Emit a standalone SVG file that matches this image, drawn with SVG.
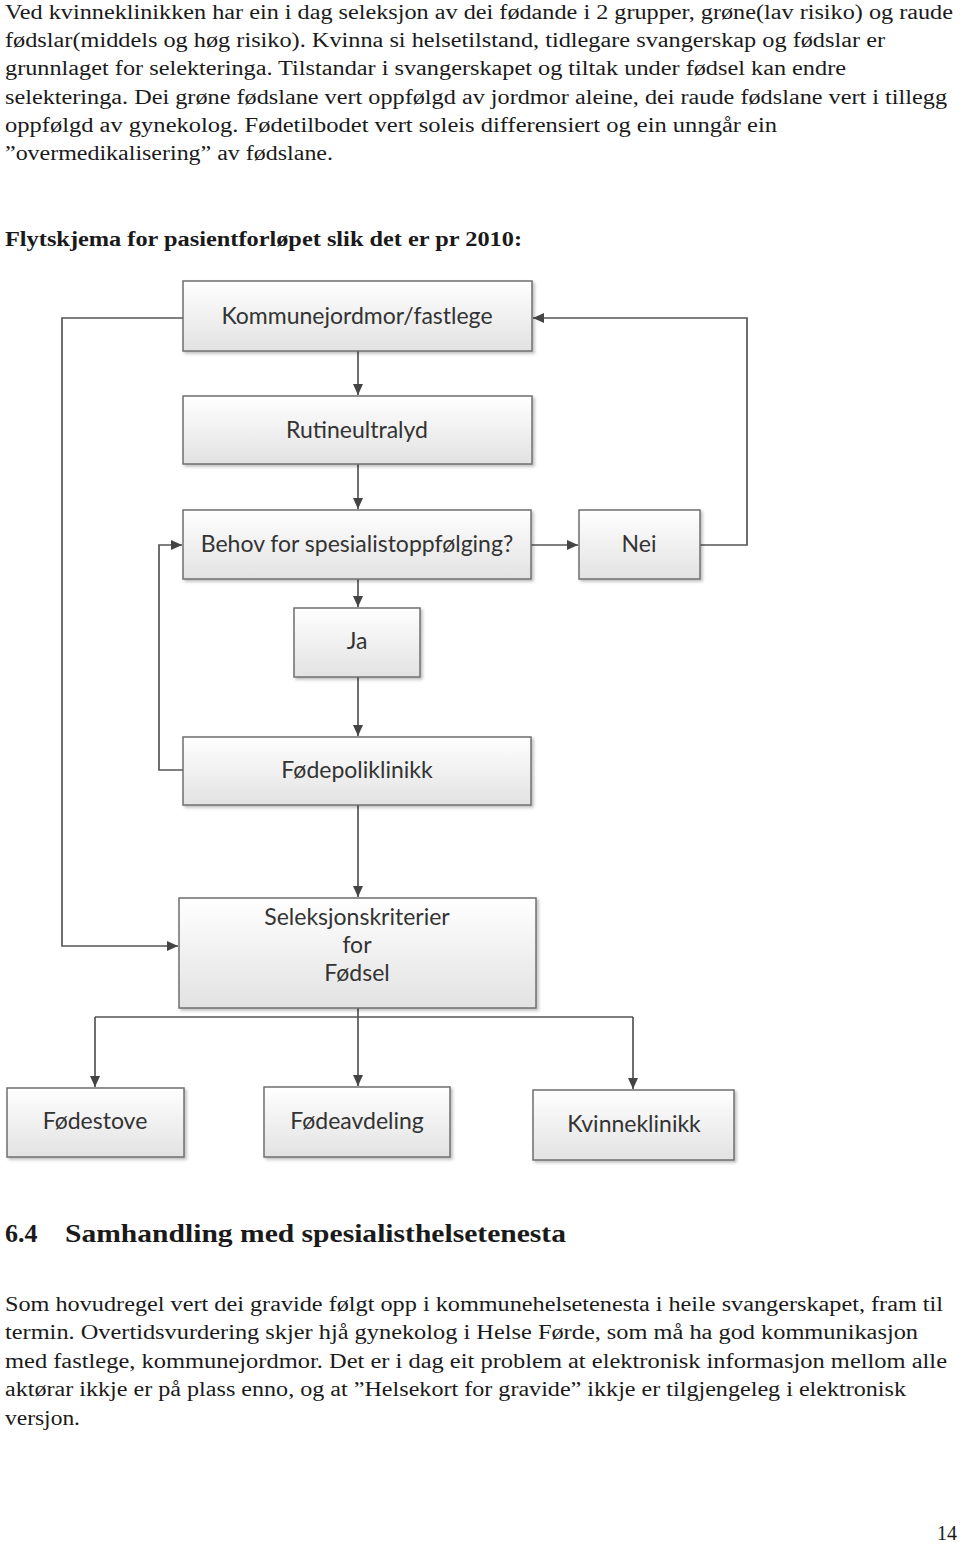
<svg xmlns="http://www.w3.org/2000/svg" width="960" height="1543" viewBox="0 0 960 1543">
<style>
.body{font-family:"Liberation Serif",serif;font-size:20px;fill:#1a1a1a}
.bold{font-family:"Liberation Serif",serif;font-weight:bold;fill:#1a1a1a}
.box{fill:url(#g);stroke:#6f6f6f;stroke-width:1.5;filter:url(#sh)}
.lbl{font-family:Lato,"Open Sans",sans-serif;font-size:23px;fill:#333;text-anchor:middle}
.con{fill:none;stroke:#555;stroke-width:1.7}
</style>
<defs>
<linearGradient id="g" x1="0" y1="0" x2="0" y2="1">
<stop offset="0" stop-color="#ffffff"/>
<stop offset="1" stop-color="#e2e2e2"/>
</linearGradient>
<filter id="sh" x="-10%" y="-10%" width="130%" height="140%">
<feDropShadow dx="2" dy="2" stdDeviation="1.5" flood-color="#000" flood-opacity="0.25"/>
</filter>
<marker id="ar" markerWidth="12" markerHeight="12" refX="11" refY="6" orient="auto" markerUnits="userSpaceOnUse">
<path d="M0,1 L11,6 L0,11 Z" fill="#444"/>
</marker>
</defs>
<rect width="960" height="1543" fill="#fff"/>

<g id="intro">
<text class="body" x="5" y="19" textLength="948" lengthAdjust="spacingAndGlyphs">Ved kvinneklinikken har ein i dag seleksjon av dei fødande i 2 grupper, grøne(lav risiko) og raude</text>
<text class="body" x="5" y="47" textLength="880" lengthAdjust="spacingAndGlyphs">fødslar(middels og høg risiko).  Kvinna si helsetilstand, tidlegare svangerskap og fødslar er</text>
<text class="body" x="5" y="75" textLength="841" lengthAdjust="spacingAndGlyphs">grunnlaget for selekteringa. Tilstandar i svangerskapet og tiltak under fødsel kan endre</text>
<text class="body" x="5" y="104" textLength="942" lengthAdjust="spacingAndGlyphs">selekteringa. Dei grøne fødslane vert oppfølgd av jordmor aleine, dei raude fødslane vert i tillegg</text>
<text class="body" x="5" y="132" textLength="772" lengthAdjust="spacingAndGlyphs">oppfølgd av gynekolog.  Fødetilbodet vert soleis differensiert og ein unngår ein</text>
<text class="body" x="5" y="160" textLength="328" lengthAdjust="spacingAndGlyphs">”overmedikalisering” av fødslane.</text>
<text class="bold" x="5" y="246" font-size="20" textLength="517" lengthAdjust="spacingAndGlyphs">Flytskjema for pasientforløpet slik det er pr 2010:</text>
</g>

<g id="connectors">
<line class="con" x1="358" y1="351" x2="358" y2="395" marker-end="url(#ar)"/>
<line class="con" x1="358" y1="464" x2="358" y2="509" marker-end="url(#ar)"/>
<line class="con" x1="358" y1="579" x2="358" y2="607" marker-end="url(#ar)"/>
<line class="con" x1="358" y1="677" x2="358" y2="736" marker-end="url(#ar)"/>
<line class="con" x1="358" y1="805" x2="358" y2="897" marker-end="url(#ar)"/>
<line class="con" x1="531" y1="545" x2="578" y2="545" marker-end="url(#ar)"/>
<polyline class="con" points="700,545 747,545 747,318 533,318" marker-end="url(#ar)"/>
<polyline class="con" points="183,318 62,318 62,946 178,946" marker-end="url(#ar)"/>
<polyline class="con" points="183,770 159,770 159,545 182,545" marker-end="url(#ar)"/>
<line class="con" x1="358" y1="1008" x2="358" y2="1086" marker-end="url(#ar)"/>
<line class="con" x1="95" y1="1017" x2="633" y2="1017"/>
<line class="con" x1="95" y1="1017" x2="95" y2="1087" marker-end="url(#ar)"/>
<line class="con" x1="633" y1="1017" x2="633" y2="1089" marker-end="url(#ar)"/>
</g>

<g id="n-kommune"><rect class="box" x="183" y="281" width="349" height="70"/><text class="lbl" x="357" y="324">Kommunejordmor/fastlege</text></g>
<g id="n-rutine"><rect class="box" x="183" y="396" width="349" height="68"/><text class="lbl" x="357" y="438">Rutineultralyd</text></g>
<g id="n-behov"><rect class="box" x="183" y="510" width="348" height="69"/><text class="lbl" x="357" y="552">Behov for spesialistoppfølging?</text></g>
<g id="n-nei"><rect class="box" x="579" y="510" width="121" height="69"/><text class="lbl" x="639" y="552">Nei</text></g>
<g id="n-ja"><rect class="box" x="294" y="608" width="126" height="69"/><text class="lbl" x="357" y="649">Ja</text></g>
<g id="n-fodepoli"><rect class="box" x="183" y="737" width="348" height="68"/><text class="lbl" x="357" y="778">Fødepoliklinikk</text></g>
<g id="n-seleksjon"><rect class="box" x="179" y="898" width="357" height="110"/>
<text class="lbl" x="357" y="925">Seleksjonskriterier</text><text class="lbl" x="357" y="953">for</text><text class="lbl" x="357" y="981">Fødsel</text></g>
<g id="n-fodestove"><rect class="box" x="7" y="1088" width="177" height="69"/><text class="lbl" x="95" y="1129">Fødestove</text></g>
<g id="n-fodeavdeling"><rect class="box" x="264" y="1087" width="186" height="70"/><text class="lbl" x="357" y="1129">Fødeavdeling</text></g>
<g id="n-kvinneklinikk"><rect class="box" x="533" y="1090" width="201" height="70"/><text class="lbl" x="634" y="1132">Kvinneklinikk</text></g>

<g id="section">
<text class="bold" x="5" y="1242" font-size="26">6.4</text>
<text class="bold" x="65" y="1242" font-size="26" textLength="501" lengthAdjust="spacingAndGlyphs">Samhandling med spesialisthelsetenesta</text>
<text class="body" x="5" y="1311" textLength="938" lengthAdjust="spacingAndGlyphs">Som hovudregel vert dei gravide følgt opp i kommunehelsetenesta i heile svangerskapet, fram til</text>
<text class="body" x="5" y="1339" textLength="913" lengthAdjust="spacingAndGlyphs">termin. Overtidsvurdering skjer hjå gynekolog i Helse Førde, som må ha god kommunikasjon</text>
<text class="body" x="5" y="1368" textLength="942" lengthAdjust="spacingAndGlyphs">med fastlege, kommunejordmor. Det er i dag eit problem at elektronisk informasjon mellom alle</text>
<text class="body" x="5" y="1396" textLength="901" lengthAdjust="spacingAndGlyphs">aktørar ikkje er på plass enno, og at ”Helsekort for gravide” ikkje er tilgjengeleg i elektronisk</text>
<text class="body" x="5" y="1425" textLength="75" lengthAdjust="spacingAndGlyphs">versjon.</text>
<text class="body" x="937" y="1540">14</text>
</g>
</svg>
